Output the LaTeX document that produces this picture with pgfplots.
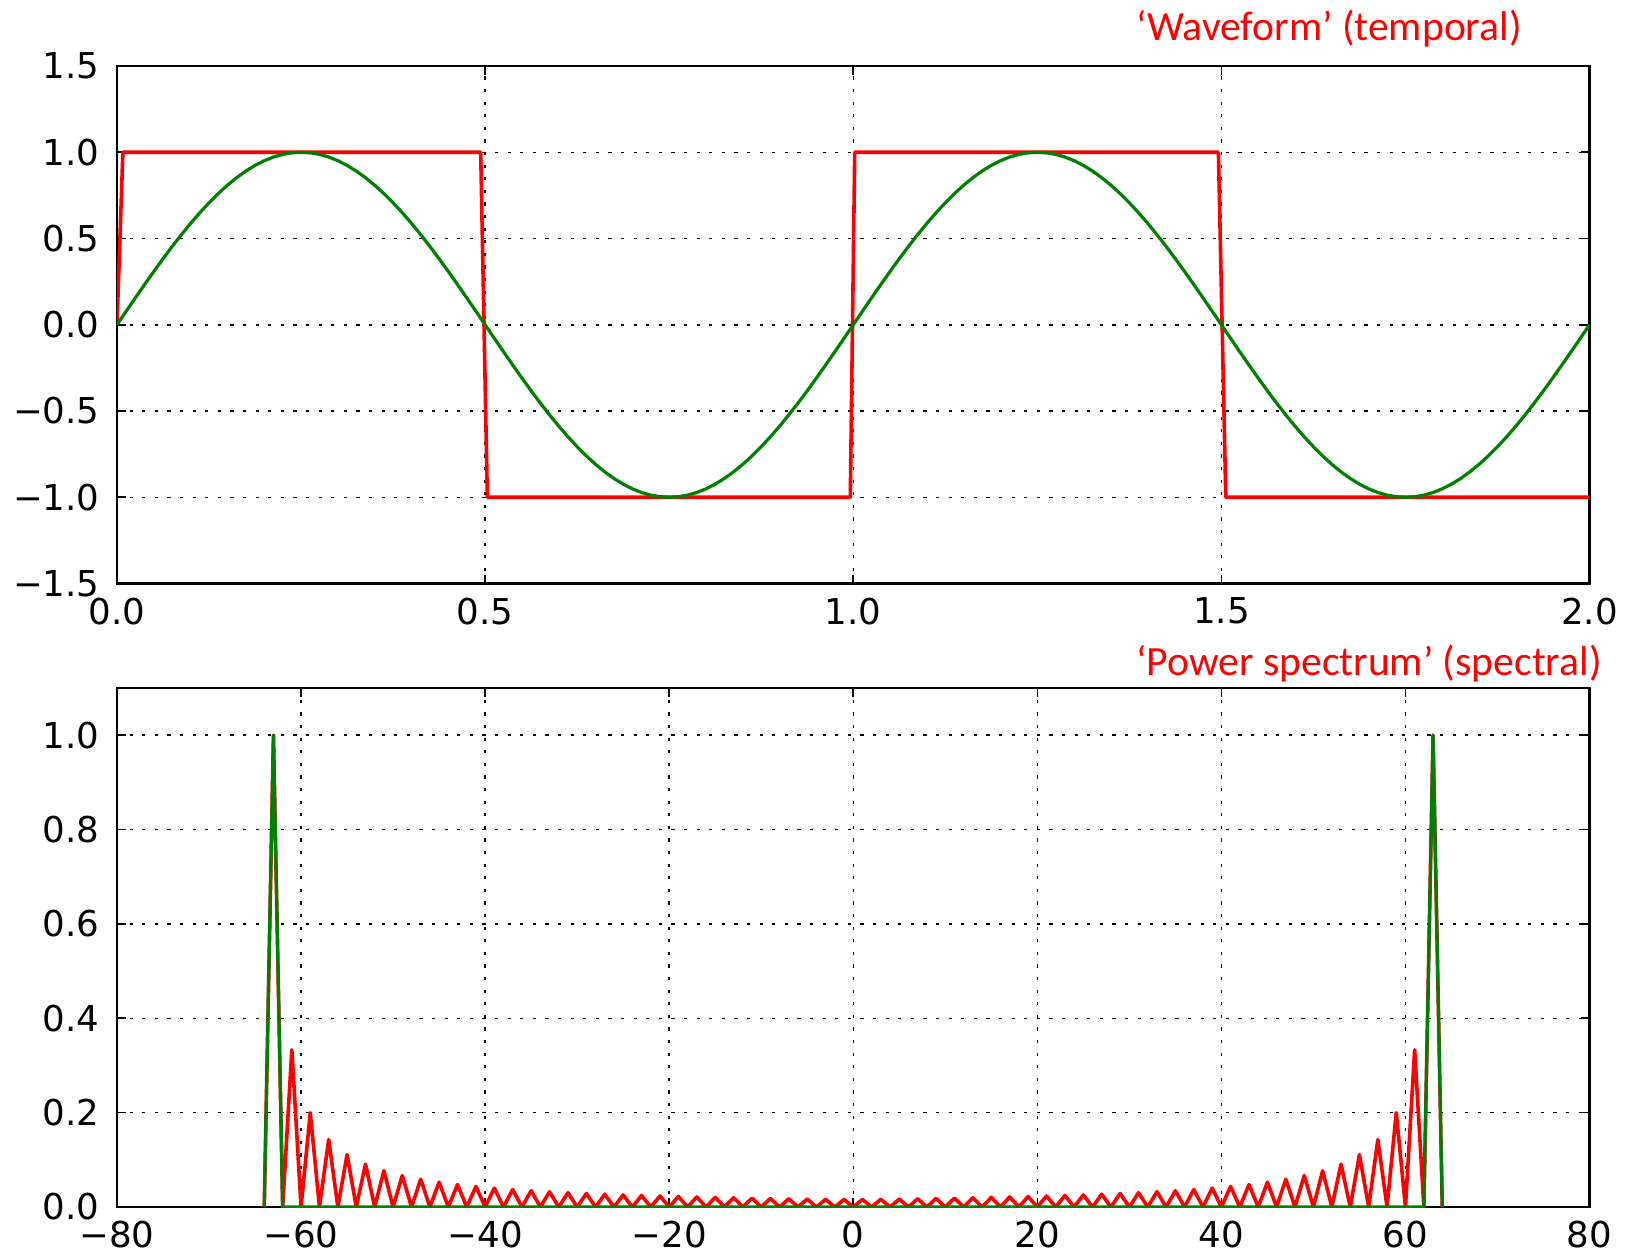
\documentclass[border=0pt]{standalone}
\usepackage{fontspec}
\setmainfont{DejaVu Sans}
\newfontfamily\carlito{Carlito}
\usepackage{pgfplots}
\usepackage{pgfplotstable}
\pgfplotsset{compat=1.18}
\definecolor{mplred}{RGB}{255,0,0}
\definecolor{mplgreen}{RGB}{0,128,0}

\pgfplotstableread{
x red green
-64 0 0
-63 1 1
-62 0 0
-61 0.3333 0
-60 0 0
-59 0.2 0
-58 0 0
-57 0.1429 0
-56 0 0
-55 0.1111 0
-54 0 0
-53 0.0909 0
-52 0 0
-51 0.0769 0
-50 0 0
-49 0.0667 0
-48 0 0
-47 0.0588 0
-46 0 0
-45 0.0526 0
-44 0 0
-43 0.0476 0
-42 0 0
-41 0.0435 0
-40 0 0
-39 0.0400 0
-38 0 0
-37 0.0370 0
-36 0 0
-35 0.0345 0
-34 0 0
-33 0.0323 0
-32 0 0
-31 0.0303 0
-30 0 0
-29 0.0286 0
-28 0 0
-27 0.0270 0
-26 0 0
-25 0.0256 0
-24 0 0
-23 0.0244 0
-22 0 0
-21 0.0233 0
-20 0 0
-19 0.0222 0
-18 0 0
-17 0.0213 0
-16 0 0
-15 0.0204 0
-14 0 0
-13 0.0196 0
-12 0 0
-11 0.0189 0
-10 0 0
-9 0.0182 0
-8 0 0
-7 0.0175 0
-6 0 0
-5 0.0169 0
-4 0 0
-3 0.0164 0
-2 0 0
-1 0.0159 0
0 0 0
1 0.0159 0
2 0 0
3 0.0164 0
4 0 0
5 0.0169 0
6 0 0
7 0.0175 0
8 0 0
9 0.0182 0
10 0 0
11 0.0189 0
12 0 0
13 0.0196 0
14 0 0
15 0.0204 0
16 0 0
17 0.0213 0
18 0 0
19 0.0222 0
20 0 0
21 0.0233 0
22 0 0
23 0.0244 0
24 0 0
25 0.0256 0
26 0 0
27 0.0270 0
28 0 0
29 0.0286 0
30 0 0
31 0.0303 0
32 0 0
33 0.0323 0
34 0 0
35 0.0345 0
36 0 0
37 0.0370 0
38 0 0
39 0.0400 0
40 0 0
41 0.0435 0
42 0 0
43 0.0476 0
44 0 0
45 0.0526 0
46 0 0
47 0.0588 0
48 0 0
49 0.0667 0
50 0 0
51 0.0769 0
52 0 0
53 0.0909 0
54 0 0
55 0.1111 0
56 0 0
57 0.1429 0
58 0 0
59 0.2 0
60 0 0
61 0.3333 0
62 0 0
63 1 1
64 0 0
}\spectrum

\pgfplotstableread{
x y
0 0
0.0125 0.0785
0.025 0.1564
0.0375 0.2334
0.05 0.3090
0.0625 0.3827
0.075 0.4540
0.0875 0.5225
0.1 0.5878
0.1125 0.6494
0.125 0.7071
0.1375 0.7604
0.15 0.8090
0.1625 0.8526
0.175 0.8910
0.1875 0.9239
0.2 0.9511
0.2125 0.9724
0.225 0.9877
0.2375 0.9969
0.25 1
0.2625 0.9969
0.275 0.9877
0.2875 0.9724
0.3 0.9511
0.3125 0.9239
0.325 0.8910
0.3375 0.8526
0.35 0.8090
0.3625 0.7604
0.375 0.7071
0.3875 0.6494
0.4 0.5878
0.4125 0.5225
0.425 0.4540
0.4375 0.3827
0.45 0.3090
0.4625 0.2334
0.475 0.1564
0.4875 0.0785
0.5 0
0.5125 -0.0785
0.525 -0.1564
0.5375 -0.2334
0.55 -0.3090
0.5625 -0.3827
0.575 -0.4540
0.5875 -0.5225
0.6 -0.5878
0.6125 -0.6494
0.625 -0.7071
0.6375 -0.7604
0.65 -0.8090
0.6625 -0.8526
0.675 -0.8910
0.6875 -0.9239
0.7 -0.9511
0.7125 -0.9724
0.725 -0.9877
0.7375 -0.9969
0.75 -1
0.7625 -0.9969
0.775 -0.9877
0.7875 -0.9724
0.8 -0.9511
0.8125 -0.9239
0.825 -0.8910
0.8375 -0.8526
0.85 -0.8090
0.8625 -0.7604
0.875 -0.7071
0.8875 -0.6494
0.9 -0.5878
0.9125 -0.5225
0.925 -0.4540
0.9375 -0.3827
0.95 -0.3090
0.9625 -0.2334
0.975 -0.1564
0.9875 -0.0785
1.0 0
1.0125 0.0785
1.025 0.1564
1.0375 0.2334
1.05 0.3090
1.0625 0.3827
1.075 0.4540
1.0875 0.5225
1.1 0.5878
1.1125 0.6494
1.125 0.7071
1.1375 0.7604
1.15 0.8090
1.1625 0.8526
1.175 0.8910
1.1875 0.9239
1.2 0.9511
1.2125 0.9724
1.225 0.9877
1.2375 0.9969
1.25 1
1.2625 0.9969
1.275 0.9877
1.2875 0.9724
1.3 0.9511
1.3125 0.9239
1.325 0.8910
1.3375 0.8526
1.35 0.8090
1.3625 0.7604
1.375 0.7071
1.3875 0.6494
1.4 0.5878
1.4125 0.5225
1.425 0.4540
1.4375 0.3827
1.45 0.3090
1.4625 0.2334
1.475 0.1564
1.4875 0.0785
1.5 0
1.5125 -0.0785
1.525 -0.1564
1.5375 -0.2334
1.55 -0.3090
1.5625 -0.3827
1.575 -0.4540
1.5875 -0.5225
1.6 -0.5878
1.6125 -0.6494
1.625 -0.7071
1.6375 -0.7604
1.65 -0.8090
1.6625 -0.8526
1.675 -0.8910
1.6875 -0.9239
1.7 -0.9511
1.7125 -0.9724
1.725 -0.9877
1.7375 -0.9969
1.75 -1
1.7625 -0.9969
1.775 -0.9877
1.7875 -0.9724
1.8 -0.9511
1.8125 -0.9239
1.825 -0.8910
1.8375 -0.8526
1.85 -0.8090
1.8625 -0.7604
1.875 -0.7071
1.8875 -0.6494
1.9 -0.5878
1.9125 -0.5225
1.925 -0.4540
1.9375 -0.3827
1.95 -0.3090
1.9625 -0.2334
1.975 -0.1564
1.9875 -0.0785
2.0 0
}\sine

\pgfplotstableread{
x y
0 0
0.008 1
0.494 1
0.503 -1
0.996 -1
1.002 1
1.496 1
1.506 -1
2.0 -1
}\square

\pgfplotsset{
  mplstyle/.style={
    scale only axis,
    axis line style={black, line width=1.1pt},
    tick align=inside,
    major tick length=4.5pt,
    tick style={black, line width=0.8pt},
    grid=major,
    major grid style={black, line width=0.75pt, dash pattern=on 1.6pt off 4.7pt},
    ticklabel style={font=\fontsize{17.8}{20}\selectfont},
    xticklabel style={inner sep=0pt, anchor=north, yshift=-7pt},
    yticklabel style={inner sep=0pt, anchor=east, xshift=-8.5pt},
    clip=true,
  }
}

\begin{document}
\begin{tikzpicture}
\path[use as bounding box] (0,0) rectangle (814.5pt,-627.5pt);

\begin{axis}[mplstyle,
  at={(58.5pt,-291.75pt)}, anchor=south west,
  width=736.25pt, height=258.75pt,
  xmin=0, xmax=2, ymin=-1.5, ymax=1.5,
  xtick={0,0.5,1,1.5,2},
  xticklabels={0.0,0.5,1.0,1.5,2.0},
  ytick={-1.5,-1,-0.5,0,0.5,1,1.5},
  yticklabels={−1.5,−1.0,−0.5,0.0,0.5,1.0,1.5},
]
\addplot[mplred, line width=1.8pt, line join=round] table[x=x,y=y] {\square};
\addplot[mplgreen, line width=1.6pt, line join=round] table[x=x,y=y] {\sine};
\end{axis}

\begin{axis}[mplstyle,
  at={(58.5pt,-603.5pt)}, anchor=south west,
  width=736.25pt, height=259.5pt,
  xmin=-80, xmax=80, ymin=0, ymax=1.1,
  xtick={-80,-60,-40,-20,0,20,40,60,80},
  xticklabels={−80,−60,−40,−20,0,20,40,60,80},
  ytick={0,0.2,0.4,0.6,0.8,1.0},
  yticklabels={0.0,0.2,0.4,0.6,0.8,1.0},
]
\addplot[mplred, line width=1.8pt, line join=round] table[x=x,y=red] {\spectrum};
\addplot[mplgreen, line width=1.6pt, line join=round] table[x=x,y=green] {\spectrum};
\end{axis}

\node[anchor=base east, inner sep=0pt, text=mplred, font=\carlito\fontsize{20.8}{24}\selectfont] at (761pt,-20pt) {‘Waveform’ (temporal)};
\node[anchor=base east, inner sep=0pt, text=mplred, font=\carlito\fontsize{20.8}{24}\selectfont] at (801pt,-337.5pt) {‘Power spectrum’ (spectral)};
\end{tikzpicture}
\end{document}
